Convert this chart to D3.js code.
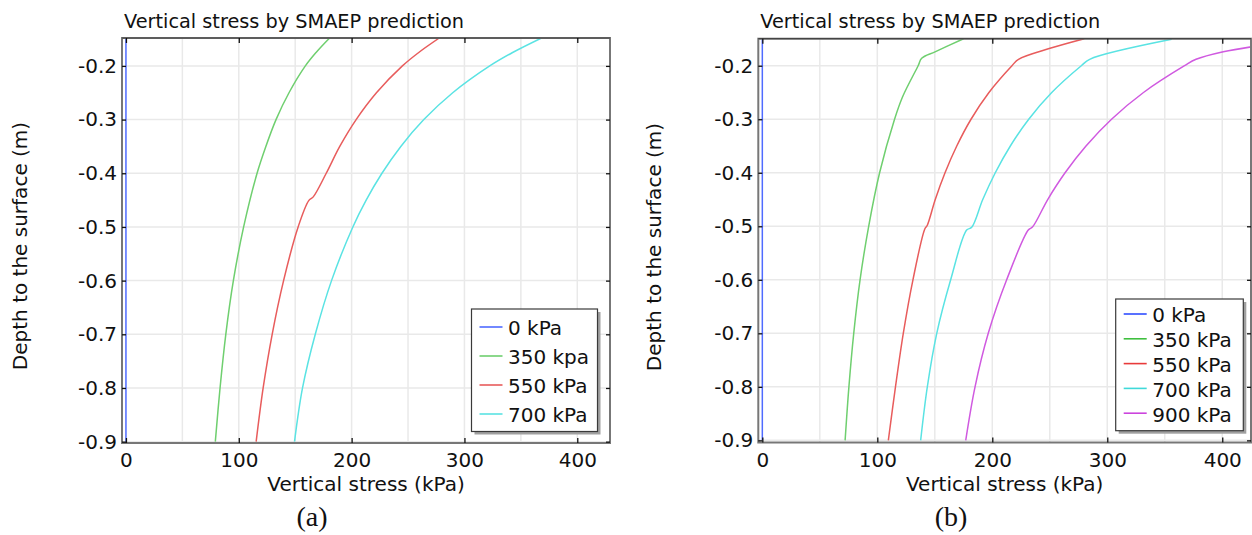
<!DOCTYPE html>
<html>
<head>
<meta charset="utf-8">
<script src="https://cdn.jsdelivr.net/npm/d3@7"></script>
<style>
  html, body { margin: 0; padding: 0; background: #fff; }
  svg { display: block; }
  text { font-family: "DejaVu Sans", sans-serif; fill: #111; }
</style>
</head>
<body>
<svg id="chart" width="1252" height="535"></svg>
<script>
// Axis ticks
const stressTicks = [0, 100, 200, 300, 400];
const stressGrid = [50, 100, 150, 200, 250, 300, 350, 400];
const depthTicks = [-0.9, -0.8, -0.7, -0.6, -0.5, -0.4, -0.3, -0.2];

// Legend labels
const loadsA = ["0 kPa", "350 kpa", "550 kPa", "700 kPa"];
const loadsB = ["0 kPa", "350 kPa", "550 kPa", "700 kPa", "900 kPa"];

// Series: [vertical stress (kPa), depth (m)] — panel (a)
const a0   = [[0, -0.9], [0, -0.148]];
const a350 = [[79.2, -0.9], [83.4, -0.8], [88.5, -0.7], [95.2, -0.6], [104.3, -0.5],
              [116.2, -0.4], [124, -0.35], [133, -0.3], [144.5, -0.25], [159, -0.2],
              [168.5, -0.175], [180.5, -0.148]];
const a550 = [[115.4, -0.9], [121.6, -0.8], [129.6, -0.7], [139.7, -0.6], [152.6, -0.5],
              [162, -0.451], [166, -0.444], [177.5, -0.4], [189.5, -0.35],
              [204, -0.3], [222, -0.25], [245, -0.2], [259.5, -0.175], [277.7, -0.148]];
const a700 = [[149.4, -0.9], [156.5, -0.8], [167.8, -0.7], [182.2, -0.6], [201.1, -0.5],
              [212.9, -0.45], [226.9, -0.4], [243.6, -0.35], [264, -0.3], [289.6, -0.25],
              [322.4, -0.2], [342.7, -0.175], [368.3, -0.148]];

// Series: [vertical stress (kPa), depth (m)] — panel (b)
const b0   = [[0, -0.9], [0, -0.1495]];
const b350 = [[72, -0.9], [75.3, -0.8], [79.5, -0.7], [85, -0.6], [92.5, -0.5],
              [102, -0.4], [115, -0.3], [122, -0.258], [135.5, -0.2], [138.6, -0.186],
              [150.2, -0.174], [175, -0.1495]];
const b550 = [[109.6, -0.9], [115.8, -0.8], [122.6, -0.7], [131, -0.6], [141.3, -0.505],
              [143.5, -0.498], [150.4, -0.45], [158.9, -0.4], [169.1, -0.35], [181.5, -0.3],
              [197.1, -0.25], [217.1, -0.2], [222.8, -0.188], [250.2, -0.1675], [280, -0.1495]];
const b700 = [[137.7, -0.9], [143.5, -0.8], [151.7, -0.7], [163.8, -0.6], [177.7, -0.507],
              [182.1, -0.502], [191.7, -0.45], [202.6, -0.4], [215.7, -0.35], [231.7, -0.3],
              [251.7, -0.25], [277.4, -0.2], [284.7, -0.188], [356, -0.1507]];
const b900 = [[176.9, -0.9], [185, -0.8], [196.5, -0.7], [212.5, -0.6], [231.3, -0.507],
              [235.1, -0.501], [248.2, -0.45], [263.3, -0.4], [281.5, -0.35], [303.7, -0.3],
              [331.5, -0.25], [367.2, -0.2], [377.2, -0.188], [400.9, -0.174], [425.8, -0.1645]];

const lineColors = ["#4f6bff", "#6fcf6f", "#e85c5c", "#5ae3e3", "#d05ae0"];
const legendColorsB = ["#2f4dff", "#3fbf3f", "#e83a3a", "#3fd9d9", "#cc44dd"];

const svg = d3.select("#chart");
svg.append("rect").attr("width", 1252).attr("height", 535).attr("fill", "#fff");

function drawPanel(p) {
  const g = svg.append("g");
  const x = d3.scaleLinear().domain(p.xDomain).range([p.left, p.right]);
  const y = d3.scaleLinear().domain(p.yDomain).range([p.bottom, p.top]);

  const clipId = "clip-" + p.id;
  g.append("clipPath").attr("id", clipId)
    .append("rect").attr("x", p.left).attr("y", p.top)
    .attr("width", p.right - p.left).attr("height", p.bottom - p.top);

  // grid
  g.append("g").selectAll("line").data(stressGrid).join("line")
    .attr("x1", d => x(d)).attr("x2", d => x(d))
    .attr("y1", p.top).attr("y2", p.bottom)
    .attr("stroke", "#e9e9e9").attr("stroke-width", 1.5);
  g.append("g").selectAll("line").data(depthTicks).join("line")
    .attr("x1", p.left).attr("x2", p.right)
    .attr("y1", d => y(d)).attr("y2", d => y(d))
    .attr("stroke", "#e9e9e9").attr("stroke-width", 1.5);

  // curves
  const line = d3.line().x(d => x(d[0])).y(d => y(d[1])).curve(d3.curveCatmullRom.alpha(0.5));
  g.append("g").attr("clip-path", `url(#${clipId})`)
    .selectAll("path").data(p.series).join("path")
    .attr("d", d => line(d))
    .attr("fill", "none")
    .attr("stroke", (d, i) => lineColors[i])
    .attr("stroke-width", 1.5);

  // frame
  g.append("rect").attr("x", p.left).attr("y", p.top)
    .attr("width", p.right - p.left).attr("height", p.bottom - p.top)
    .attr("fill", "none").attr("stroke", "#777").attr("stroke-width", 2);
  g.append("line").attr("x1", p.left).attr("x2", p.right)
    .attr("y1", p.top).attr("y2", p.top)
    .attr("stroke", "#444").attr("stroke-width", 1.2);

  // axes with inward ticks
  const xb = g.append("g").attr("transform", `translate(0,${p.bottom})`)
    .call(d3.axisBottom(x).tickValues(stressTicks).tickSize(-5).tickFormat(d3.format("d")));
  const xt = g.append("g").attr("transform", `translate(0,${p.top})`)
    .call(d3.axisTop(x).tickValues(stressTicks).tickSize(-5).tickFormat(""));
  const yl = g.append("g").attr("transform", `translate(${p.left},0)`)
    .call(d3.axisLeft(y).tickValues(depthTicks).tickSize(-4).tickFormat(d => d.toFixed(1)));
  const yr = g.append("g").attr("transform", `translate(${p.right},0)`)
    .call(d3.axisRight(y).tickValues(depthTicks).tickSize(-4).tickFormat(""));
  [xb, xt, yl, yr].forEach(a => {
    a.select(".domain").remove();
    a.selectAll(".tick line").attr("stroke", "#111").attr("stroke-width", 1.3);
    a.selectAll(".tick text").attr("font-size", 20).attr("font-family", "DejaVu Sans").attr("fill", "#111");
  });
  xb.selectAll(".tick text").attr("dy", null).attr("y", 467 - p.bottom);
  yl.selectAll(".tick text").attr("x", -(p.left - p.tickRight));

  // title and axis labels
  g.append("text").attr("x", p.left + 2).attr("y", 28)
    .attr("font-size", 19.3).text("Vertical stress by SMAEP prediction");
  g.append("text").attr("x", (p.left + p.right) / 2).attr("y", 490.5)
    .attr("text-anchor", "middle").attr("font-size", 20).text("Vertical stress (kPa)");
  g.append("text").attr("transform", `translate(${p.yLabelX},${p.yLabelY}) rotate(-90)`)
    .attr("text-anchor", "middle").attr("font-size", 20).text("Depth to the surface (m)");

  // legend
  const L = p.legend;
  const lg = g.append("g");
  lg.append("rect").attr("x", L.x + 3).attr("y", L.y + 3).attr("width", L.w).attr("height", L.h)
    .attr("fill", "#a0a0a0");
  lg.append("rect").attr("x", L.x).attr("y", L.y).attr("width", L.w).attr("height", L.h)
    .attr("fill", "#fff").attr("stroke", "#3a3a3a").attr("stroke-width", 1.2);
  const rows = lg.selectAll("g.row").data(p.labels).join("g").attr("class", "row")
    .attr("transform", (d, i) => `translate(0,${L.firstRow + i * L.step})`);
  rows.append("line").attr("x1", L.x + 8).attr("x2", L.x + 31)
    .attr("y1", 0).attr("y2", 0)
    .attr("stroke", (d, i) => p.legendColors[i]).attr("stroke-width", 1.6);
  rows.append("text").attr("x", L.x + 36.5).attr("y", 8.3)
    .attr("font-size", 20).text(d => d);

  // caption
  g.append("text").attr("x", p.captionX).attr("y", 526)
    .attr("text-anchor", "middle").attr("font-size", 28)
    .style("font-family", "'Liberation Serif', 'Times New Roman', serif")
    .text(p.caption);
}

drawPanel({
  id: "a", left: 122, right: 610, top: 38, bottom: 443,
  xDomain: [-3.5, 429], yDomain: [-0.9025, -0.148], tickRight: 117,
  series: [a0, a350, a550, a700], labels: loadsA,
  legendColors: lineColors,
  legend: { x: 471.5, y: 309, w: 126, h: 122.5, firstRow: 327, step: 29 },
  yLabelX: 27, yLabelY: 246, caption: "(a)", captionX: 312
});

drawPanel({
  id: "b", left: 758.3, right: 1251, top: 38.7, bottom: 442.5,
  xDomain: [-3.5, 425], yDomain: [-0.904, -0.1495], tickRight: 753.3,
  series: [b0, b350, b550, b700, b900], labels: loadsB,
  legendColors: legendColorsB,
  legend: { x: 1115.7, y: 299, w: 127.6, h: 131.7, firstRow: 314, step: 24.8 },
  yLabelX: 661, yLabelY: 247, caption: "(b)", captionX: 951
});
</script>
</body>
</html>
